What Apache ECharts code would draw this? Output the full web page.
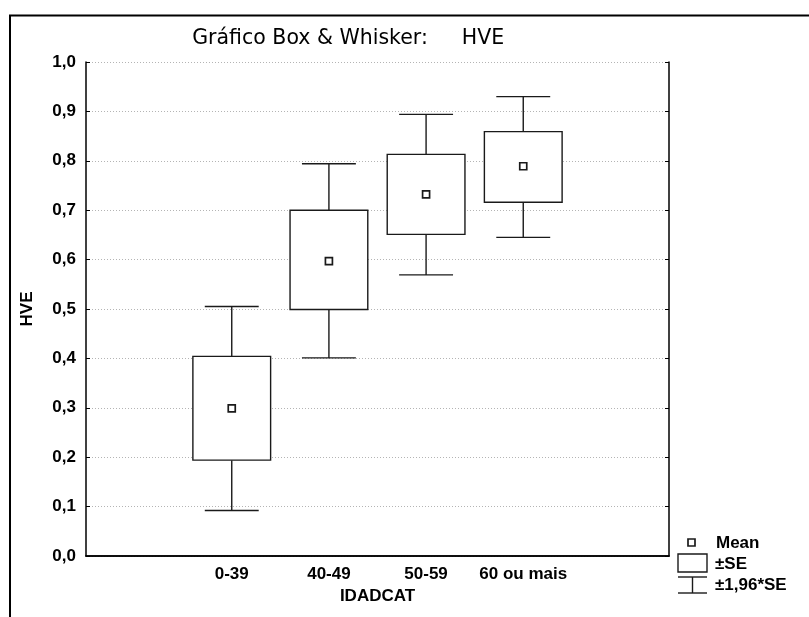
<!DOCTYPE html>
<html>
<head>
<meta charset="utf-8">
<script src="https://cdn.jsdelivr.net/npm/echarts@6/dist/echarts.min.js"></script>
<style>
  html, body { margin: 0; padding: 0; background: #fff; }
  #chart { width: 809px; height: 617px; }
</style>
</head>
<body>
<div id="chart"></div>
<script>
// categories (empty slots at both ends give the extra ticks)
const categories = ['', '0-39', '40-49', '50-59', '60 ou mais', '']
const boxCategories = ['0-39', '40-49', '50-59', '60 ou mais']

// mean, ±SE box, ±1,96*SE whiskers
const meanValues = [0.299, 0.597, 0.732, 0.789]
const seLow = [0.194, 0.499, 0.651, 0.716]
const seHigh = [0.404, 0.700, 0.813, 0.859]
const ciLow = [0.092, 0.401, 0.569, 0.645]
const ciHigh = [0.505, 0.794, 0.894, 0.930]

const FONT = "'Liberation Sans', Arial, sans-serif"
const INK = '#1a1a1a'

const chart = echarts.init(document.getElementById('chart'))

const boxData = boxCategories.map((c, i) => [
  categories.indexOf(c), ciLow[i], seLow[i], meanValues[i], seHigh[i], ciHigh[i]
])

function renderBox(params, api) {
  const x = api.value(0)
  const band = api.size([1, 0])[0]
  const pLow = api.coord([x, api.value(1)])
  const pSeLow = api.coord([x, api.value(2)])
  const pMean = api.coord([x, api.value(3)])
  const pSeHigh = api.coord([x, api.value(4)])
  const pHigh = api.coord([x, api.value(5)])
  const cx = pMean[0]
  const boxW = band * 0.8
  const capW = band * 0.555
  const line = { stroke: INK, lineWidth: 1.4 }
  return {
    type: 'group',
    children: [
      { type: 'line', shape: { x1: cx, y1: pHigh[1], x2: cx, y2: pSeHigh[1] }, style: line },
      { type: 'line', shape: { x1: cx, y1: pSeLow[1], x2: cx, y2: pLow[1] }, style: line },
      { type: 'line', shape: { x1: cx - capW / 2, y1: pHigh[1], x2: cx + capW / 2, y2: pHigh[1] }, style: line },
      { type: 'line', shape: { x1: cx - capW / 2, y1: pLow[1], x2: cx + capW / 2, y2: pLow[1] }, style: line },
      {
        type: 'rect',
        shape: { x: cx - boxW / 2, y: pSeHigh[1], width: boxW, height: pSeLow[1] - pSeHigh[1] },
        style: { fill: '#fff', stroke: INK, lineWidth: 1.4 }
      },
      {
        type: 'rect',
        shape: { x: pMean[0] - 3.5, y: pMean[1] - 3.5, width: 7, height: 7 },
        style: { fill: '#fff', stroke: INK, lineWidth: 1.7 }
      }
    ]
  }
}

const labelStyle = { color: '#000', fontFamily: FONT, fontWeight: 'bold', fontSize: 17 }

const option = {
  backgroundColor: '#fff',
  animation: false,
  grid: { left: 86, right: 140, top: 62, bottom: 61, containLabel: false },
  xAxis: [{
    type: 'category',
    data: categories,
    boundaryGap: true,
    position: 'bottom',
    axisLine: { lineStyle: { color: '#000', width: 1.5 } },
    axisTick: { inside: true, alignWithLabel: true, interval: 0, length: 4, lineStyle: { color: '#000' } },
    axisLabel: Object.assign({ interval: 0, margin: 10 }, labelStyle),
    splitLine: { show: false },
    name: 'IDADCAT',
    nameLocation: 'middle',
    nameGap: 32,
    nameTextStyle: labelStyle
  }, {
    type: 'category',
    data: categories,
    boundaryGap: true,
    position: 'top',
    axisLine: { lineStyle: { color: '#000', width: 1.5 } },
    axisTick: { inside: true, alignWithLabel: true, interval: 0, length: 4, lineStyle: { color: '#000' } },
    axisLabel: { show: false },
    splitLine: { show: false }
  }],
  yAxis: [{
    type: 'value',
    min: 0,
    max: 1,
    interval: 0.1,
    position: 'left',
    axisLine: { show: true, lineStyle: { color: '#000', width: 1.5 } },
    axisTick: { show: true, inside: true, length: 4, lineStyle: { color: '#000' } },
    axisLabel: Object.assign({
      margin: 10,
      formatter: v => v.toFixed(1).replace('.', ',')
    }, labelStyle),
    splitLine: { show: true, lineStyle: { color: '#b4b4b4', type: [1, 2], width: 1 } },
    name: 'HVE',
    nameLocation: 'middle',
    nameRotate: 90,
    nameGap: 50,
    nameTextStyle: labelStyle
  }, {
    type: 'value',
    min: 0,
    max: 1,
    interval: 0.1,
    position: 'right',
    axisLine: { show: true, lineStyle: { color: '#000', width: 1.5 } },
    axisTick: { show: true, inside: true, length: 4, lineStyle: { color: '#000' } },
    axisLabel: { show: false },
    splitLine: { show: false }
  }],
  series: [{
    type: 'custom',
    renderItem: renderBox,
    data: boxData,
    encode: { x: 0, y: [1, 2, 3, 4, 5] },
    z: 5
  }],
  graphic: [
    // outer frame (top + left edges)
    { type: 'polyline', shape: { points: [[10, 617], [10, 15.5], [809, 15.5]] },
      style: { stroke: '#000', lineWidth: 2, fill: null } },
    // title
    { type: 'text', x: 310, y: 39,
      style: { text: 'Gráfico Box & Whisker:', fontFamily: "'DejaVu Sans', sans-serif", fontSize: 20.5,
        fill: '#000', align: 'center', verticalAlign: 'middle' } },
    { type: 'text', x: 483, y: 39,
      style: { text: 'HVE', fontFamily: "'DejaVu Sans', sans-serif", fontSize: 20.5,
        fill: '#000', align: 'center', verticalAlign: 'middle' } },
    // legend
    { type: 'rect', shape: { x: 688, y: 539, width: 7, height: 7 },
      style: { fill: '#fff', stroke: INK, lineWidth: 1.7 } },
    { type: 'text', x: 716, y: 543,
      style: { text: 'Mean', font: 'bold 17px ' + FONT, fill: '#000', verticalAlign: 'middle' } },
    { type: 'rect', shape: { x: 678, y: 554, width: 29, height: 18 },
      style: { fill: '#fff', stroke: INK, lineWidth: 1.4 } },
    { type: 'text', x: 715, y: 564,
      style: { text: '±SE', font: 'bold 17px ' + FONT, fill: '#000', verticalAlign: 'middle' } },
    { type: 'polyline', shape: { points: [[678, 577], [707, 577]] }, style: { stroke: INK, lineWidth: 1.4 } },
    { type: 'polyline', shape: { points: [[692.5, 577], [692.5, 593]] }, style: { stroke: INK, lineWidth: 1.4 } },
    { type: 'polyline', shape: { points: [[678, 593], [707, 593]] }, style: { stroke: INK, lineWidth: 1.4 } },
    { type: 'text', x: 715, y: 585,
      style: { text: '±1,96*SE', font: 'bold 17px ' + FONT, fill: '#000', verticalAlign: 'middle' } }
  ]
}

chart.setOption(option)
</script>
</body>
</html>
